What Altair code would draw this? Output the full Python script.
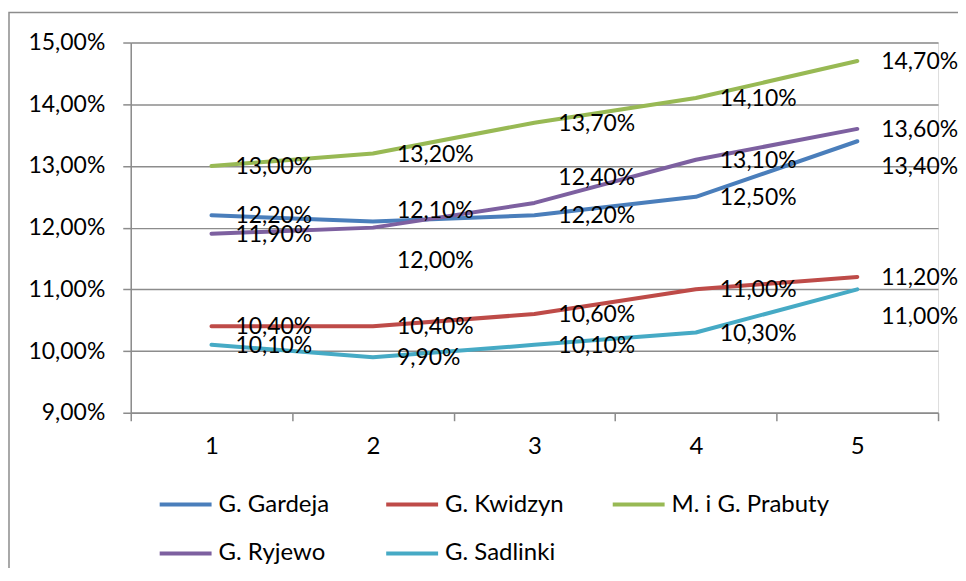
import altair as alt
import pandas as pd

# ---- data ----
categories = ["1", "2", "3", "4", "5"]
series_names = ["G. Gardeja", "G. Kwidzyn", "M. i G. Prabuty", "G. Ryjewo", "G. Sadlinki"]
gardeja = [12.2, 12.1, 12.2, 12.5, 13.4]
kwidzyn = [10.4, 10.4, 10.6, 11.0, 11.2]
prabuty = [13.0, 13.2, 13.7, 14.1, 14.7]
ryjewo = [11.9, 12.0, 12.4, 13.1, 13.6]
sadlinki = [10.1, 9.9, 10.1, 10.3, 11.0]
y_ticks = [9, 10, 11, 12, 13, 14, 15]

colors = ["#4A7EBB", "#BE4B48", "#98B954", "#7D60A0", "#46AAC5"]

# data labels that were moved away from their point in the reference (percentage points)
label_shift = {
    "G. Gardeja": [0, 0.19, 0, 0, -0.40],
    "G. Ryjewo": [0, -0.53, 0.42, 0, 0],
    "G. Sadlinki": [0, 0, 0, 0, -0.44],
}

values = [gardeja, kwidzyn, prabuty, ryjewo, sadlinki]
rows = []
for name, vals in zip(series_names, values):
    shifts = label_shift.get(name, [0] * len(vals))
    for cat, v, s in zip(categories, vals, shifts):
        rows.append({"series": name, "x": cat, "frac": v / 100.0, "label_pos": (v + s) / 100.0})
df = pd.DataFrame(rows)

FONT = "Lato"
FS = 23
LFS = 24
GRID = "#8C8C8C"

base = alt.Chart(df)

x_enc = alt.X(
    "x:O",
    sort=categories,
    scale=alt.Scale(type="band", paddingInner=0, paddingOuter=0),
    axis=alt.Axis(
        title=None, labelAngle=0, tickBand="extent", tickSize=8, tickColor=GRID,
        domainColor=GRID, domainWidth=1.5, tickWidth=1.5, labelPadding=14,
        labelFont=FONT, labelFontSize=LFS, labelColor="black", grid=False,
    ),
)

lines = base.mark_line(strokeWidth=4, strokeCap="round", strokeJoin="round").encode(
    x=x_enc,
    y=alt.Y(
        "frac:Q",
        scale=alt.Scale(domain=[0.09, 0.15], nice=False, zero=False),
        axis=alt.Axis(
            title=None, values=[t / 100 for t in y_ticks],
            labelExpr="replace(format(datum.value, '.2%'), '.', ',')",
            tickSize=8, tickColor=GRID, tickWidth=1.5, domainColor=GRID, domainWidth=1.5,
            gridColor=GRID, gridWidth=1.5, labelPadding=18,
            labelFont=FONT, labelFontSize=FS, labelColor="black",
        ),
    ),
    color=alt.Color(
        "series:N",
        sort=series_names,
        scale=alt.Scale(domain=series_names, range=colors),
        legend=alt.Legend(
            title=None, orient="none", legendX=27, legendY=435, direction="horizontal",
            columns=3, gridAlign="all", symbolType="stroke", symbolSize=2704,
            symbolStrokeWidth=4, labelFont=FONT, labelFontSize=LFS, labelColor="black",
            labelOffset=5, columnPadding=2, rowPadding=9, padding=0,
        ),
    ),
    order=alt.Order("x:O"),
)

labels = base.transform_calculate(
    txt="replace(format(datum.frac, '.2%'), '.', ',')"
).mark_text(align="left", baseline="middle", dx=24, dy=1, font=FONT, fontSize=FS, color="black").encode(
    x=alt.X("x:O", sort=categories),
    y=alt.Y("label_pos:Q"),
    text="txt:N",
)

border = alt.Chart(pd.DataFrame({"k": [0]})).mark_rect(
    fill=None, stroke=GRID, strokeWidth=1.5
).encode(
    x=alt.value(-122), x2=alt.value(1000), y=alt.value(-30), y2=alt.value(700)
)

chart = alt.layer(border, lines, labels).properties(
    width=809, height=371,
    autosize=alt.AutoSizeParams(type="none"),
    padding={"left": 123, "top": 34, "right": 20, "bottom": 155},
).configure_view(stroke=None).configure(background="white")

chart.save("out.html", embed_options={"renderer": "svg", "actions": False})
